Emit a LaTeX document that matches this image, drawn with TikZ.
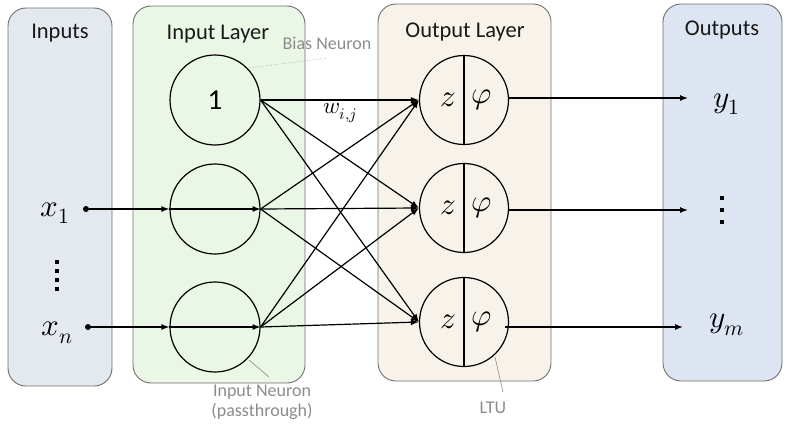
\documentclass[tikz,border=0pt]{standalone}
\usepackage{fontspec}
\setmainfont{Carlito}
\usepackage{unicode-math}
\usetikzlibrary{arrows.meta}
\definecolor{inbg}{HTML}{E4E9EF}
\definecolor{ilbg}{HTML}{EBF7E6}
\definecolor{olbg}{HTML}{F7F3EB}
\definecolor{outbg}{HTML}{DCE5F1}
\definecolor{frame}{HTML}{6E6E6E}
\definecolor{note}{HTML}{8C8C8C}
\tikzset{
  panel/.style={draw=frame, line width=0.9pt, rounded corners=18pt, inner sep=0pt},
  title/.style={font=\fontsize{22.5}{26}\selectfont, text=black!90},
  notelbl/.style={font=\fontsize{18}{20}\selectfont, text=note, align=center},
  neuron/.style={circle, draw=black, line width=1.2pt, minimum size=90pt, inner sep=0pt},
  sym/.style={font=\fontsize{31}{33}\selectfont, inner sep=0pt},
  wire/.style={line width=1.2pt, -{Latex[length=8pt,width=6pt]}},
  plain/.style={line width=1.2pt},
  leader/.style={draw=note, line width=0.6pt},
  dotsq/.style={fill=black, minimum size=4pt, inner sep=0pt},
  srcdot/.style={circle, fill=black, minimum size=6pt, inner sep=0pt}
}
\begin{document}
\begin{tikzpicture}[x=1pt,y=-1pt]
\useasboundingbox (0,0) rectangle (787,423);
% panels
\node[panel, fill=inbg, minimum width=104pt, minimum height=378pt] (pin) at (60,197) {};
\node[panel, fill=ilbg, minimum width=172pt, minimum height=377pt] (pil) at (219,194.5) {};
\node[panel, fill=olbg, minimum width=173pt, minimum height=377pt] (pol) at (464.5,192.5) {};
\node[panel, fill=outbg, minimum width=119pt, minimum height=377pt] (pout) at (722.5,192.5) {};
% titles
\node[title] (tin) at (60,33) {Inputs};
\node[title] (til) at (218,34) {Input Layer};
\node[title] (tol) at (465,32) {Output Layer};
\node[title] (tout) at (722,30) {Outputs};
% input neurons
\node[neuron] (i0) at (215,100) {\fontsize{29}{31}\selectfont 1};
\node[neuron] (i1) at (215,209) {};
\node[neuron] (i2) at (215,327) {};
% output neurons
\foreach \n/\y in {0/100,1/208,2/322}{
  \node[neuron, minimum size=89pt] (o\n) at (464,\y) {};
  \draw[plain] (o\n.north) -- (o\n.south);
  \node[sym] (z\n) at (448,\y) {$z$};
  \node[sym] (p\n) at (482,\y) {$\varphi$};
}
% inputs
\node[sym] (x1) at (55,213) {$x_1$};
\node[sym] (xn) at (57,333) {$x_n$};
\node[srcdot] (d1) at (86,209) {};
\node[srcdot] (dn) at (88,327) {};
\foreach \yy [count=\k] in {262,271,280,289}{
  \node[dotsq] (vi\k) at (57,\yy) {};
}
% outputs
\node[sym] (y1) at (727,104) {$y_1$};
\node[sym] (ym) at (727,325) {$y_m$};
\foreach \yy [count=\k] in {198,210,222}{
  \node[dotsq] (vo\k) at (722,\yy) {};
}
% input arrows
\draw[wire] (d1) -- (i1.west);
\draw[wire] (i1.west) -- (i1.east);
\draw[wire] (dn) -- (i2.west);
\draw[wire] (i2.west) -- (i2.east);
% weights
\foreach \a in {0,1,2}{
  \foreach \b in {0,1,2}{
    \draw[wire] (i\a.east) -- (o\b.west);
  }
}
\node[font=\fontsize{23}{25}\selectfont] (w) at (340,113) {$w_{i,j}$};
% outputs arrows
\coordinate (e0) at (688,98);
\coordinate (e1) at (688,210);
\coordinate (e2) at (683,327);
\draw[wire] (o0.east |- e0) -- (e0);
\draw[wire] (o1.east |- e1) -- (e1);
\draw[wire] (505,327) -- (e2);
% notes
\node[notelbl] (nb) at (327,43) {Bias Neuron};
\coordinate (nb1) at (248,68);
\coordinate (nb2) at (328,58);
\draw[leader, dotted] (nb1) -- (nb2);
\node[notelbl, inner sep=0pt] (nin) at (262,402) {Input Neuron\\(passthrough)};
\coordinate (ni1) at (249,360);
\coordinate (ni2) at (269,377);
\draw[leader] (ni1) -- (ni2);
\node[notelbl] (nl) at (493,408) {LTU};
\coordinate (nl1) at (495,357);
\coordinate (nl2) at (503,392);
\draw[leader] (nl1) -- (nl2);
\end{tikzpicture}
\end{document}
